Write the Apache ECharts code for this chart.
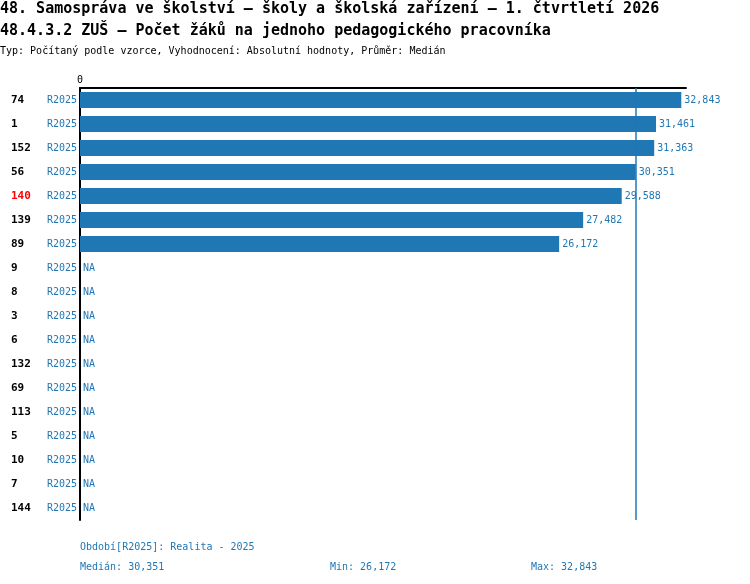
<!DOCTYPE html>
<html>
<head>
<meta charset="utf-8">
<script src="https://cdn.jsdelivr.net/npm/echarts@6/dist/echarts.min.js"></script>
<style>
  html, body { margin: 0; padding: 0; background: #fff; }
  #chart { width: 750px; height: 584px; }
</style>
</head>
<body>
<div id="chart"></div>
<script>
"use strict";
const titleLines = [
    "48. Samospráva ve školství – školy a školská zařízení – 1. čtvrtletí 2026",
    "48.4.3.2 ZUŠ – Počet žáků na jednoho pedagogického pracovníka",
];
const subTitle = "Typ: Počítaný podle vzorce, Vyhodnocení: Absolutní hodnoty, Průměr: Medián";
const categories = ["74", "1", "152", "56", "140", "139", "89", "9", "8", "3", "6", "132", "69", "113", "5", "10", "7", "144"];
const values = [32843, 31461, 31363, 30351, 29588, 27482, 26172, null, null, null, null, null, null, null, null, null, null, null];
const period = "R2025";
const periodName = "Realita - 2025";
const highlighted = "140";

const font = "DejaVu Sans Mono";
const blue = "#1f77b4";
const fmt = (v) => v.toLocaleString("en-US");

const known = values.filter((v) => v !== null).sort((a, b) => a - b);
const median = known.length % 2 ? known[(known.length - 1) / 2] : (known[known.length / 2 - 1] + known[known.length / 2]) / 2;
const min = known[0];
const max = known[known.length - 1];

const chart = echarts.init(document.getElementById("chart"));
const txt = (text, left, top, style) => ({
    text, left, top, padding: 0,
    textStyle: Object.assign({ fontFamily: font, fontSize: 10, fontWeight: "normal", color: "#000" }, style),
});
chart.setOption({
    animation: false,
    title: [
        txt(titleLines[0], 0, 2, { fontSize: 15, fontWeight: "bold" }),
        txt(titleLines[1], 0, 24, { fontSize: 15, fontWeight: "bold" }),
        txt(subTitle, 0, 46, {}),
        txt(`Období[${period}]: ${periodName}`, 80, 542, { color: blue }),
        txt(`Medián: ${fmt(median)}`, 80, 562, { color: blue }),
        txt(`Min: ${fmt(min)}`, 330, 562, { color: blue }),
        txt(`Max: ${fmt(max)}`, 531, 562, { color: blue }),
    ],
    grid: { left: 80, top: 88, width: 606, height: 432, containLabel: false },
    xAxis: {
        type: "value",
        position: "top",
        min: 0,
        max: 33100,
        interval: 33100,
        splitLine: { show: false },
        axisTick: { show: false },
        axisLine: { show: true, lineStyle: { color: "#000", width: 2 } },
        axisLabel: {
            margin: 3,
            fontFamily: font, fontSize: 10, color: "#000",
            formatter: (v) => v === 0 ? "0" : "",
        },
    },
    yAxis: {
        type: "category",
        inverse: true,
        data: categories,
        axisTick: { show: false },
        axisLine: { show: true, lineStyle: { color: "#000", width: 2 } },
        axisLabel: {
            margin: 3,
            formatter: (v) => `{${v === highlighted ? "hl" : "id"}|${v}}{per|${period}}`,
            rich: {
                id: { width: 36, align: "left", fontFamily: font, fontSize: 11, fontWeight: "bold", color: "#000" },
                hl: { width: 36, align: "left", fontFamily: font, fontSize: 11, fontWeight: "bold", color: "#ff0000" },
                per: { width: 30, align: "right", fontFamily: font, fontSize: 10, color: blue },
            },
        },
    },
    series: [{
        type: "bar",
        barWidth: 16,
        itemStyle: { color: blue },
        data: values.map((v) => ({ value: v === null ? 0 : v, na: v === null })),
        label: {
            show: true,
            position: "right",
            distance: 3,
            fontFamily: font, fontSize: 10, color: blue,
            formatter: (p) => p.data.na ? "NA" : fmt(p.data.value),
        },
        markLine: {
            silent: true,
            symbol: "none",
            label: { show: false },
            lineStyle: { color: blue, width: 1.5, type: "solid", opacity: 1 },
            emphasis: { disabled: true },
            data: [{ xAxis: median }],
        },
    }],
});
</script>
</body>
</html>
